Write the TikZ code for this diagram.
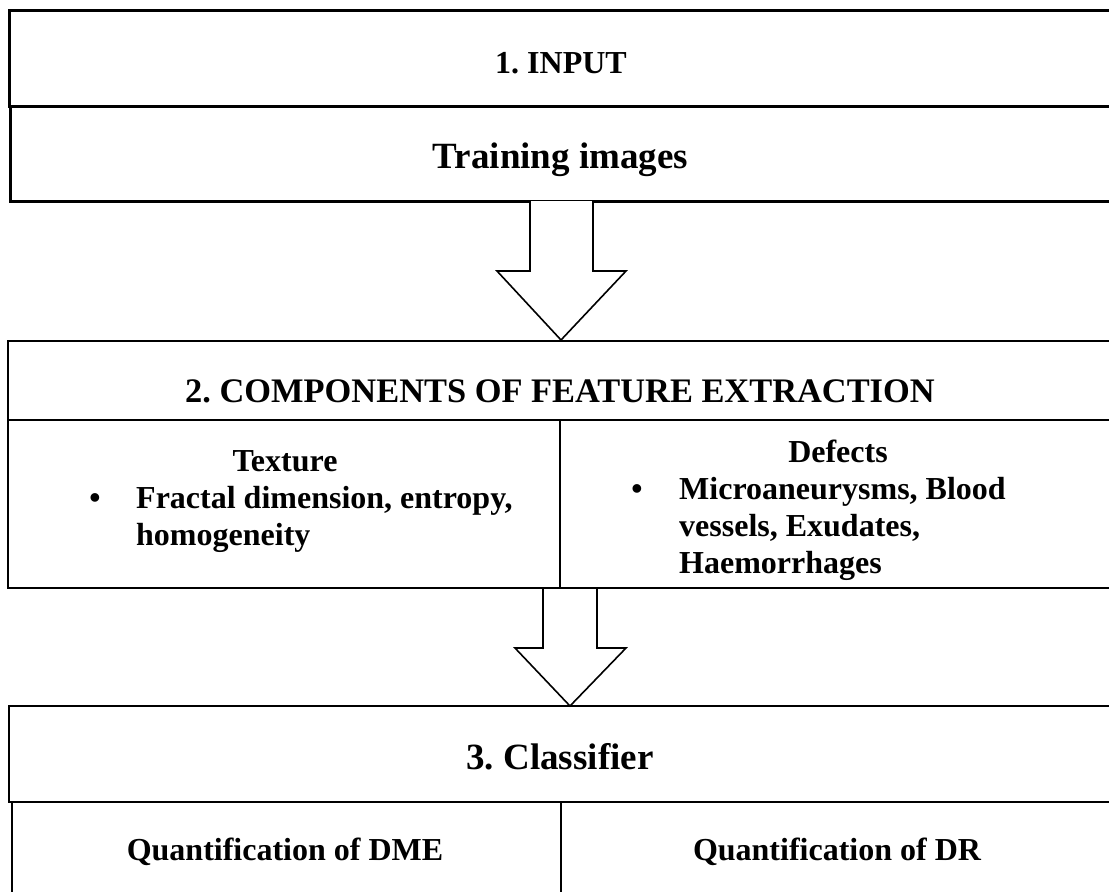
\documentclass[tikz,border=0pt]{standalone}
\usepackage{fontspec}
\setmainfont{Liberation Serif}
\frenchspacing
\begin{document}
\begin{tikzpicture}[x=1pt,y=-1pt,
  frame/.style={draw=black,line width=2pt},
  thickframe/.style={draw=black,line width=3pt},
  blockarrow/.style={draw=black,fill=white,line width=1.6pt,line join=miter},
  txt/.style={inner sep=0pt,anchor=base,font=\bfseries\fontsize{32}{37.5}\selectfont},
  bigtxt/.style={txt,font=\bfseries\fontsize{37}{42}\selectfont},
  headtxt/.style={txt,font=\bfseries\fontsize{34.4}{40}\selectfont},
  listtxt/.style={inner sep=0pt,anchor=base west,font=\bfseries\fontsize{32}{37}\selectfont}]
\useasboundingbox (0,0) rectangle (1109,892);
\fill[white] (0,0) rectangle (1109,892);

% --- stage 1: input ---
\draw[thickframe] (1109,10) -- (9,10) -- (9,106) -- (1109,106);
\draw[thickframe] (10,106) -- (10,201) -- (1109,201);
\node[txt] (input) at (561,73) {1. INPUT};
\node[bigtxt] (train) at (560.5,168) {Training images};

% --- arrow from stage 1 to stage 2 ---
\draw[blockarrow] (530,201) -- (530,271) -- (497,271) -- (561,340) -- (626,271) -- (593,271) -- (593,201);

% --- stage 2: feature extraction ---
\draw[frame] (1109,341) -- (8,341) -- (8,588) -- (1109,588);
\draw[frame] (8,420) -- (1109,420);
\draw[frame] (560,420) -- (560,588);
\node[headtxt] (feat) at (560,402) {2. COMPONENTS OF FEATURE EXTRACTION};
\node[txt] (texture) at (285,471) {Texture};
\node[txt] (bul1) at (95,508) {•};
\node[listtxt] (texlist) at (136,508)
  {\begin{tabular}[t]{@{}l@{}}Fractal dimension, entropy,\\homogeneity\end{tabular}};
\node[txt] (defects) at (838,462) {Defects};
\node[txt] (bul2) at (637,499) {•};
\node[listtxt] (deflist) at (679,499)
  {\begin{tabular}[t]{@{}l@{}}Microaneurysms, Blood\\vessels, Exudates,\\Haemorrhages\end{tabular}};

% --- arrow from stage 2 to stage 3 ---
\draw[blockarrow] (543,589) -- (543,648) -- (515,648) -- (570,706) -- (626,648) -- (597,648) -- (597,589);

% --- stage 3: classifier ---
\draw[frame] (1109,706) -- (9,706) -- (9,802) -- (1109,802);
\draw[frame] (11.5,802) -- (11.5,892);
\draw[frame] (561,802) -- (561,892);
\node[bigtxt] (classifier) at (560,769) {3. Classifier};
\node[txt] (dme) at (285,860) {Quantification of DME};
\node[txt] (dr) at (837,860) {Quantification of DR};
\end{tikzpicture}
\end{document}
